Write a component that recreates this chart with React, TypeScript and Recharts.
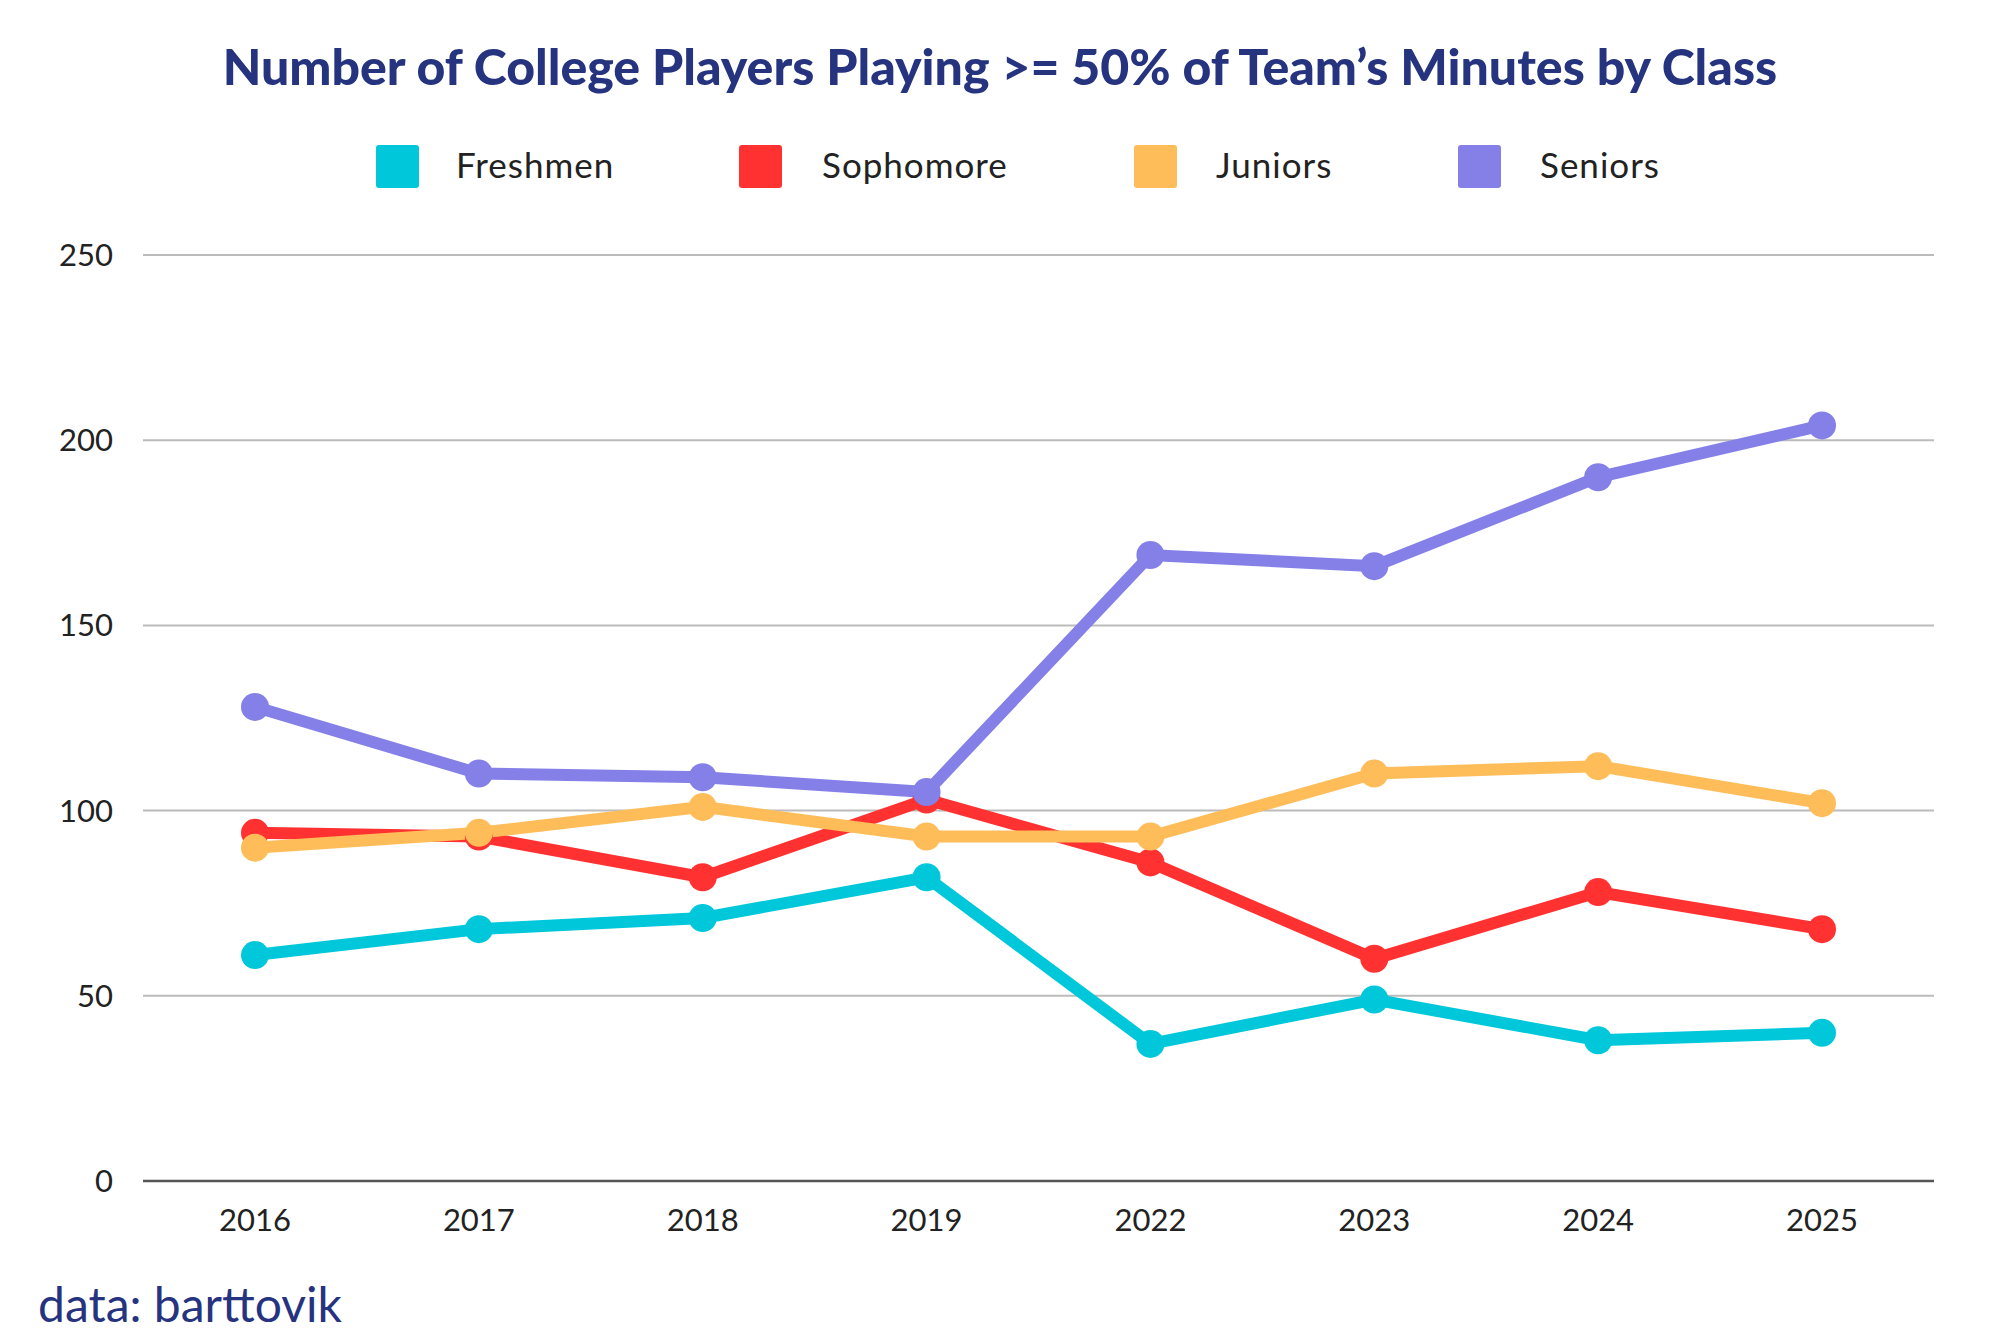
import { LineChart, Line, XAxis, YAxis, CartesianGrid } from "recharts";

const years = ["2016", "2017", "2018", "2019", "2022", "2023", "2024", "2025"];
const freshmen = [61, 68, 71, 82, 37, 49, 38, 40];
const sophomore = [94, 93, 82, 103, 86, 60, 78, 68];
const juniors = [90, 94, 101, 93, 93, 110, 112, 102];
const seniors = [128, 110, 109, 105, 169, 166, 190, 204];
const yTicks = [0, 50, 100, 150, 200, 250];

const series = [
  { key: "freshmen", name: "Freshmen", color: "#00c8da", sq: 376, tx: 456 },
  { key: "sophomore", name: "Sophomore", color: "#ff3131", sq: 739, tx: 822 },
  { key: "juniors", name: "Juniors", color: "#ffbd59", sq: 1134, tx: 1216 },
  { key: "seniors", name: "Seniors", color: "#8480e8", sq: 1458, tx: 1540 },
];

const data = years.map((year, i) => ({
  year,
  freshmen: freshmen[i],
  sophomore: sophomore[i],
  juniors: juniors[i],
  seniors: seniors[i],
}));

const font = "Lato, 'Noto Sans', sans-serif";

export default function App() {
  return (
    <div style={{ position: "absolute", left: 0, top: 0, width: 2000, height: 1333, background: "#fff", fontFamily: font }}>
      <div style={{ position: "absolute", top: 36, width: 2000, textAlign: "center", fontSize: 50, fontWeight: 900, color: "#26337f" }}>
        Number of College Players Playing &gt;= 50% of Team’s Minutes by Class
      </div>
      {series.map((s) => (
        <div key={s.key}>
          <div style={{ position: "absolute", left: s.sq, top: 145, width: 43, height: 43, background: s.color, borderRadius: 3 }} />
          <div style={{ position: "absolute", left: s.tx, top: 143, fontSize: 35, color: "#222", letterSpacing: 1 }}>{s.name}</div>
        </div>
      ))}
      <div style={{ position: "absolute", left: 38, top: 1275, fontSize: 48, color: "#26337f" }}>data: barttovik</div>
      <div style={{ position: "absolute", left: 0, top: 0 }}>
        <LineChart width={2000} height={1333} data={data} margin={{ top: 255, bottom: 72, left: 0, right: 66 }}>
          <CartesianGrid horizontal vertical={false} stroke="#bbbbbb" strokeWidth={2} />
          <XAxis
            dataKey="year"
            tickLine={false}
            axisLine={{ stroke: "#555", strokeWidth: 2.5 }}
            tick={{ fontSize: 31, fill: "#222", fontFamily: font }}
            tickMargin={22}
            height={80}
            padding={{ left: 112, right: 112 }}
          />
          <YAxis
            width={143}
            domain={[0, 250]}
            ticks={yTicks}
            tickLine={false}
            axisLine={false}
            tick={{ fontSize: 31, fill: "#222", fontFamily: font }}
            tickMargin={24}
          />
          {series.map((s) => (
            <Line
              key={s.key}
              dataKey={s.key}
              name={s.name}
              stroke={s.color}
              strokeWidth={12}
              dot={{ r: 14, fill: s.color, stroke: s.color, strokeWidth: 0 }}
              isAnimationActive={false}
            />
          ))}
        </LineChart>
      </div>
    </div>
  );
}
